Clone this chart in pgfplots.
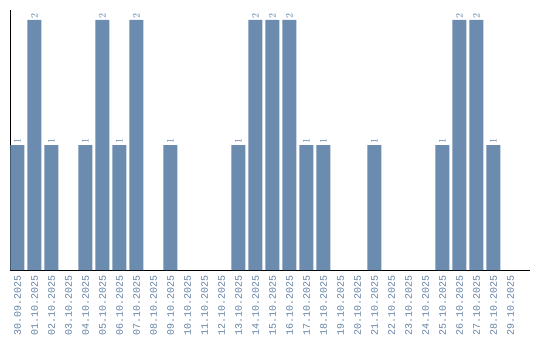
\documentclass[border=0pt]{standalone}
\usepackage{pgfplots}
\pgfplotsset{compat=1.18}
\usepackage{fontspec}
\setmainfont{Liberation Mono}
\definecolor{barc}{RGB}{107,140,174}
\definecolor{labc}{RGB}{100,130,165}
\begin{document}
\begin{tikzpicture}
\begin{axis}[name=ax,
  scale only axis, width=520bp, height=260bp,
  xmin=-0.44, xmax=30.15, ymin=0, ymax=2.08,
  axis x line*=bottom, axis y line*=left,
  axis line style={-, black, line width=0.8pt},
  ytick=\empty,
  xtick={0,...,29},
  major tick length=0pt,
  xticklabels={30.09.2025,01.10.2025,02.10.2025,03.10.2025,04.10.2025,05.10.2025,06.10.2025,07.10.2025,08.10.2025,09.10.2025,10.10.2025,11.10.2025,12.10.2025,13.10.2025,14.10.2025,15.10.2025,16.10.2025,17.10.2025,18.10.2025,19.10.2025,20.10.2025,21.10.2025,22.10.2025,23.10.2025,24.10.2025,25.10.2025,26.10.2025,27.10.2025,28.10.2025,29.10.2025},
  x tick label style={rotate=90, anchor=east, font=\fontsize{10bp}{12bp}\selectfont, text=labc, inner sep=0pt, outer sep=0pt, xshift=-5bp},
  ybar, bar width=14bp,
  nodes near coords,
  every node near coord/.append style={rotate=90, anchor=west, font=\fontsize{10bp}{12bp}\selectfont, text=labc, inner sep=1bp},
]
\addplot[fill=barc, draw=none] coordinates {
(0,1)(1,2)(2,1)(4,1)(5,2)(6,1)(7,2)(9,1)(13,1)(14,2)(15,2)(16,2)(17,1)(18,1)(21,1)(25,1)(26,2)(27,2)(28,1)
};
\end{axis}
\pgfresetboundingbox
\path[use as bounding box] ([shift={(-10bp,-70bp)}]ax.south west) rectangle ([shift={(10bp,10bp)}]ax.north east);
\end{tikzpicture}
\end{document}
